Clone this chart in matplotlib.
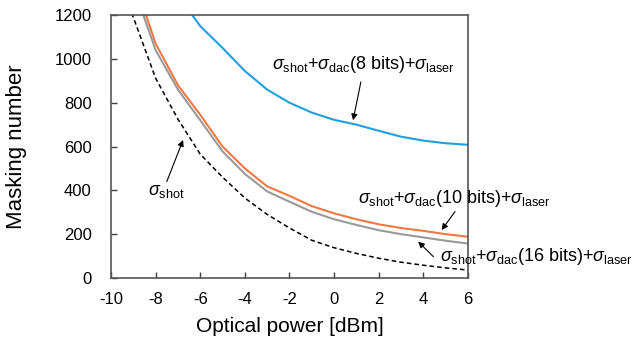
import matplotlib
matplotlib.use("Agg")
import matplotlib.pyplot as plt

plt.rcParams['font.family'] = ['Liberation Sans', 'DejaVu Sans']
plt.rcParams['mathtext.fontset'] = 'custom'
plt.rcParams['mathtext.rm'] = 'Liberation Sans'
plt.rcParams['mathtext.it'] = 'Liberation Sans:italic'
plt.rcParams['axes.unicode_minus'] = False

# --- Data ---
power = [-10, -9, -8, -7, -6, -5, -4, -3, -2, -1, 0, 1, 2, 3, 4, 5, 6]

dac8 = [1500, 1420, 1360, 1290, 1150, 1050, 945, 860, 800, 755, 722, 700, 672, 645, 627, 615, 608]
dac10 = [1600, 1372, 1070, 880, 745, 600, 500, 418, 375, 328, 295, 268, 245, 228, 215, 200, 188]
dac16 = [1550, 1331, 1040, 860, 720, 578, 475, 395, 348, 302, 268, 242, 218, 200, 185, 170, 157]
shot = [1440, 1190, 912, 725, 565, 460, 365, 290, 228, 172, 138, 112, 90, 72, 58, 46, 36]

xticks = [-10, -8, -6, -4, -2, 0, 2, 4, 6]
yticks = [0, 200, 400, 600, 800, 1000, 1200]

fig = plt.figure(figsize=(6.38, 3.44), dpi=100)
ax = fig.add_axes([0.174, 0.192, 0.5595, 0.764])

ax.plot(power, dac8, color="#1ea0e0", lw=1.5)
ax.plot(power, dac10, color="#f07844", lw=1.5)
ax.plot(power, dac16, color="#9a9a9a", lw=1.5)
ax.plot(power, shot, color="black", lw=1.1, ls=(0, (3, 2)))

ax.set_xlim(-10, 6)
ax.set_ylim(0, 1200)
ax.set_xticks(xticks)
ax.set_yticks(yticks)
ax.tick_params(direction='in', length=4, width=1, labelsize=12, colors='#404040',
               labelcolor='black')
ax.tick_params(axis='x', pad=10)
ax.tick_params(axis='y', pad=14)
for s in ax.spines.values():
    s.set_color('#555555')
    s.set_linewidth(1.2)

ax.set_xlabel("Optical power [dBm]", fontsize=15, labelpad=7)
ax.set_ylabel("Masking number", fontsize=16, labelpad=20)

arrow = dict(arrowstyle='-|>', color='black', lw=0.8, mutation_scale=9, shrinkA=0, shrinkB=0)
lab = r'$\sigma_{\rm shot}$+$\sigma_{\rm dac}$(%s bits)+$\sigma_{\rm laser}$'

ax.text(-2.78, 975, lab % "8", fontsize=13, ha='left', va='center')
ax.annotate("", xy=(0.85, 720), xytext=(1.2, 895), arrowprops=arrow)

ax.text(-8.34, 393, r'$\sigma_{\rm shot}$', fontsize=13, ha='left', va='center')
ax.annotate("", xy=(-6.77, 630), xytext=(-7.5, 440), arrowprops=arrow)

ax.text(1.07, 362, lab % "10", fontsize=13, ha='left', va='center', clip_on=False)
ax.annotate("", xy=(4.82, 219), xytext=(5.42, 303), arrowprops=arrow, annotation_clip=False)

ax.text(4.75, 100, lab % "16", fontsize=13, ha='left', va='center', clip_on=False)
ax.annotate("", xy=(3.77, 166), xytext=(4.45, 97), arrowprops=arrow, annotation_clip=False)

fig.savefig("out.png", dpi=100)
